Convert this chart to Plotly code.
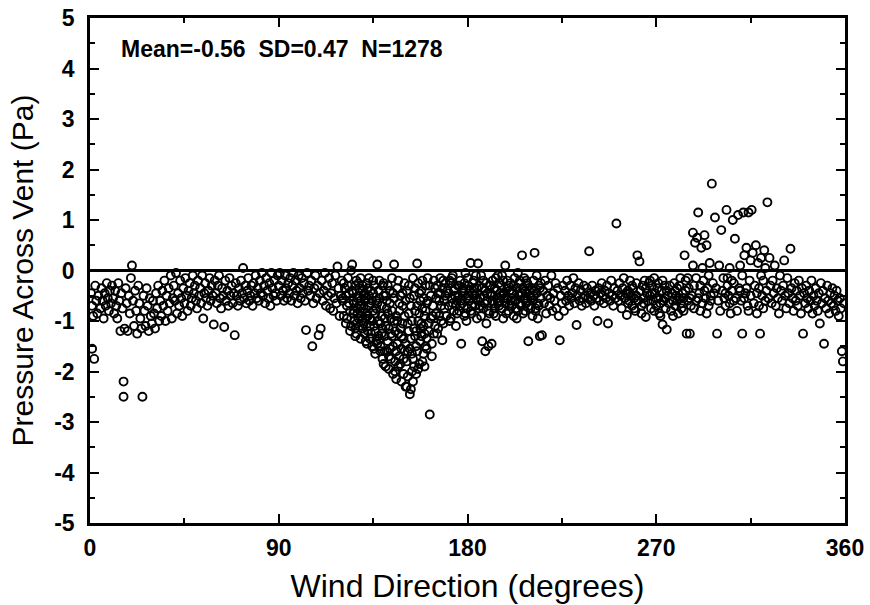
import plotly.graph_objects as go

wind_dir = [
    0.5, 1, 1.5, 2, 2.5, 3, 3.5, 4, 5, 5.5,
    6, 6.5, 7, 7.5, 8, 8.5, 9, 9.5, 10, 1,
    10.5, 11, 11.5, 12, 12.5, 13, 13.5, 14, 14.5, 15,
    15.5, 16, 16, 16.5, 17, 17.5, 18, 18.5, 19, 19.5,
    20, 20.5, 21, 21.5, 22, 22.5, 23, 23.5, 24, 24.5,
    25, 25.5, 26, 26.5, 27, 27.5, 28, 28.5, 29, 29.5,
    30, 30.5, 31, 31.5, 32, 32.5, 33, 33.5, 34, 34.5,
    35, 35.5, 36, 36.5, 37, 37.5, 38, 38.5, 39, 39.5,
    40, 40.5, 41, 41.5, 42, 42.5, 43, 43.5, 44, 44.5,
    45, 45.5, 46, 46.5, 47, 47.5, 48, 48.5, 49, 49.5,
    50, 50.5, 51, 51.5, 52, 52.5, 53, 53.5, 54, 54.5,
    55, 55.5, 56, 56.5, 57, 57.5, 58, 58.5, 59, 59.5,
    60, 60.5, 61, 61.5, 62, 62.5, 63, 63.5, 64, 64.5,
    65, 65.5, 66, 66.5, 67, 67.5, 68, 68.5, 69, 69.5,
    70, 70.5, 71, 71.5, 72, 72.5, 73, 73.5, 74, 74.5,
    75, 75.5, 76, 76.5, 77, 77.5, 78, 78.5, 79, 79.5,
    80, 80.5, 81, 81.5, 82, 82.5, 83, 83.5, 84, 84.5,
    85, 85.5, 86, 86.5, 87, 87.5, 88, 88.5, 89, 89.5,
    90, 90.5, 91, 91.5, 92, 92.5, 93, 93.5, 94, 94.5,
    95, 95.5, 96, 96.5, 97, 97.5, 98, 98.5, 99, 99.5,
    100, 100.5, 101, 101.5, 102, 102.5, 103, 103.5, 104, 104.5,
    105, 105.5, 106, 106.5, 107, 107.5, 108, 108.5, 109, 109.5,
    110, 110.5, 111, 111.5, 112, 112.5, 113, 113.5, 114, 114.5,
    115, 115.5, 116, 116.5, 117, 117.5, 118, 118.5, 119, 119.5,
    120, 120.5, 121, 121.5, 122, 122.5, 123, 123.5, 124, 124.5,
    120.5, 121, 122, 122.5, 123, 123.5, 124, 124.5, 125, 125.5,
    125, 125.5, 126, 126.5, 127, 127.5, 128, 128.5, 129, 129.5,
    125.5, 126, 126.5, 127, 127.5, 128, 128.5, 129, 129.5, 130,
    126, 127, 128, 129, 130, 126.5, 127.5, 128.5, 129.5, 130.5,
    130, 130.5, 131, 131.5, 132, 132.5, 133, 133.5, 134, 134.5,
    130.5, 131, 131.5, 132, 132.5, 133, 133.5, 134, 134.5, 135,
    131, 132, 133, 134, 135, 131.5, 132.5, 133.5, 134.5, 135.5,
    135, 135.5, 136, 136.5, 137, 137.5, 138, 138.5, 139, 139.5,
    135.5, 136, 136.5, 137, 137.5, 138, 138.5, 139, 139.5, 140,
    136, 137, 138, 139, 140, 136.5, 137.5, 138.5, 139.5, 140.5,
    140, 140.5, 141, 141.5, 142, 142.5, 143, 143.5, 144, 144.5,
    140.5, 141, 141.5, 142, 142.5, 143, 143.5, 144, 144.5, 145,
    141, 142, 143, 144, 145, 141.5, 142.5, 143.5, 144.5, 145.5,
    145, 145.5, 146, 146.5, 147, 147.5, 148, 148.5, 149, 149.5,
    145.5, 146, 146.5, 147, 147.5, 148, 148.5, 149, 149.5, 150,
    146, 147, 148, 149, 150, 146.5, 147.5, 148.5, 149.5, 150.5,
    150, 150.5, 151, 151.5, 152, 152.5, 153, 153.5, 154, 154.5,
    150.5, 151, 151.5, 152, 152.5, 153, 153.5, 154, 154.5, 155,
    151, 152, 153, 154, 155, 151.5, 152.5, 153.5, 154.5, 155.5,
    155, 155.5, 156, 156.5, 157, 157.5, 158, 158.5, 159, 159.5,
    155.5, 156, 156.5, 157, 157.5, 158, 158.5, 159, 159.5, 160,
    156, 157, 158, 159, 160, 156.5, 157.5, 158.5, 159.5, 160.5,
    160, 160.5, 161, 161.5, 162, 162.5, 163, 163.5, 164, 164.5,
    160.5, 161, 161.5, 162, 162.5, 163, 163.5, 164, 164.5, 165,
    165, 165.5, 166, 166.5, 167, 167.5, 168, 168.5, 169, 169.5,
    165.5, 166, 166.5, 167, 167.5, 168, 168.5, 169, 169.5, 170,
    170.5, 171, 171.5, 172, 172.5, 173, 173.5, 174, 174.5, 175,
    171, 172, 173, 174, 175, 171.5, 172.5, 173.5, 174.5, 175.5,
    175.5, 176, 176.5, 177, 177.5, 178, 178.5, 179, 179.5, 180,
    176, 177, 178, 179, 180, 176.5, 177.5, 178.5, 179.5, 180.5,
    180.5, 181, 181.5, 182, 182.5, 183, 183.5, 184, 184.5, 185,
    181, 182, 183, 184, 185, 181.5, 182.5, 183.5, 184.5, 185.5,
    185.5, 186, 186.5, 187, 187.5, 188, 188.5, 189, 189.5, 190,
    186, 187, 188, 189, 190, 186.5, 187.5, 188.5, 189.5, 190.5,
    190.5, 191, 191.5, 192, 192.5, 193, 193.5, 194, 194.5, 195,
    191, 192, 193, 194, 195, 191.5, 192.5, 193.5, 194.5, 195.5,
    195.5, 196, 196.5, 197, 197.5, 198, 198.5, 199, 199.5, 200,
    196, 197, 198, 199, 200, 196.5, 197.5, 198.5, 199.5, 200.5,
    200.5, 201, 201.5, 202, 202.5, 203, 203.5, 204, 204.5, 205,
    201, 202, 203, 204, 205, 201.5, 202.5, 203.5, 204.5, 205.5,
    205.5, 206, 206.5, 207, 207.5, 208, 208.5, 209, 209.5, 210,
    206, 207, 208, 209, 210, 206.5, 207.5, 208.5, 209.5, 210.5,
    210.5, 211, 211.5, 212, 212.5, 213, 213.5, 214, 214.5, 215,
    211, 212, 213, 214, 215, 211.5, 212.5, 213.5, 214.5, 215.5,
    216, 216.5, 217, 217.5, 218, 218.5, 219, 219.5, 220, 220.5,
    221, 221.5, 222, 222.5, 223, 223.5, 224, 224.5, 225, 225.5,
    226, 226.5, 227, 227.5, 228, 228.5, 229, 229.5, 230, 230.5,
    231, 231.5, 232, 232.5, 233, 233.5, 234, 234.5, 235, 235.5,
    236, 236.5, 237, 237.5, 238, 238.5, 239, 239.5, 240, 240.5,
    241, 241.5, 242, 242.5, 243, 243.5, 244, 244.5, 245, 245.5,
    246, 246.5, 247, 247.5, 248, 248.5, 249, 249.5, 250, 250.5,
    251, 251.5, 252, 252.5, 253, 253.5, 254, 254.5, 255, 255.5,
    256, 256.5, 257, 257.5, 258, 258.5, 259, 259.5, 260, 260.5,
    256.5, 257.5, 258.5, 259.5, 260.5, 261, 261.5, 262, 262.5, 263,
    263.5, 264, 264.5, 265, 265.5, 263, 264, 265, 266, 266.5,
    267, 267.5, 268, 268.5, 269, 269.5, 270, 270.5, 271, 271.5,
    267, 268, 269, 270, 271, 272, 272.5, 273, 273.5, 274,
    274.5, 275, 275.5, 272, 273, 274, 275, 276, 276.5, 277,
    277.5, 278, 278.5, 279, 279.5, 280, 280.5, 281, 281.5, 282,
    278, 279, 280, 281, 282, 282.5, 283, 283.5, 284, 284.5,
    285, 285.5, 286, 286.5, 287, 283, 284, 285, 286, 287.5,
    287.5, 288, 288.5, 289, 289.5, 290, 290.5, 291, 291.5, 292,
    292.5, 293, 293.5, 294, 294.5, 295, 295.5, 296, 296.5, 297,
    288, 289, 290, 291, 292, 293, 294, 295, 296, 297.5,
    298, 298.5, 299, 299.5, 300, 300.5, 301, 301.5, 302, 302.5,
    303, 303.5, 304, 304.5, 305, 305.5, 306, 306.5, 307, 307.5,
    303, 304, 305, 306, 307, 308, 308.5, 309, 309.5, 310,
    310.5, 311, 311.5, 312, 312.5, 313, 313.5, 314, 314.5, 315,
    310, 311, 312, 313, 314, 315, 315.5, 316, 316.5, 317,
    317.5, 318, 318.5, 319, 319.5, 320, 320.5, 321, 321.5, 322,
    318, 319, 320, 321, 322, 322.5, 323, 323.5, 324, 324.5,
    325, 325.5, 326, 326.5, 327, 327.5, 328, 328.5, 329, 329.5,
    330, 330.5, 331, 331.5, 332, 332.5, 333, 333.5, 334, 334.5,
    335, 335.5, 336, 336.5, 337, 337.5, 338, 338.5, 339, 339.5,
    340, 340.5, 341, 341.5, 342, 342.5, 343, 343.5, 344, 344.5,
    345, 345.5, 346, 346.5, 347, 347.5, 348, 348.5, 349, 349.5,
    350, 350.5, 351, 351.5, 352, 352.5, 353, 353.5, 354, 354.5,
    355, 355.5, 356, 356.5, 357, 357.5, 358, 358.5, 359, 359.5,
]

# Pressure across vent (Pa), same order as wind_dir
pressure = [
    -0.45, -0.7, -0.9, -1.75, -0.3, -0.6, -0.85, -0.5, -0.75, -0.35,
    -0.6, -0.95, -0.45, -0.7, -0.25, -0.55, -0.8, -0.4, -0.65, -1.55,
    -0.3, -0.55, -0.85, -0.4, -0.7, -0.95, -0.25, -0.6, -1.2, -0.45,
    -0.75, -2.2, -2.5, -1.15, -0.35, -0.65, -1.2, -0.5, -0.85, -0.15,
    0.1, -0.6, -1.1, -0.4, -0.8, -1.25, -0.3, -0.65, -0.95, -1.15,
    -2.5, -0.5, -0.8, -1.1, -0.35, -0.7, -1.2, -0.55, -0.9, -1.05,
    -0.6, -0.85, -1.15, -0.45, -0.75, -0.3, -1.0, -0.6, -0.9, -0.4,
    -0.7, -0.2, -1.0, -0.5, -0.8, -0.35, -0.65, -0.1, -0.95, -0.55,
    -0.3, -0.6, -0.05, -0.85, -0.45, -0.7, -0.2, -0.55, -0.9, -0.35,
    -0.65, -0.15, -0.5, -0.8, -0.4, -0.25, -0.7, -0.55, -0.1, -0.45,
    -0.3, -0.6, -0.75, -0.2, -0.5, -0.35, -0.65, -0.1, -0.95, -0.45,
    -0.25, -0.55, -0.7, -0.4, -0.15, -0.6, -0.3, -0.5, -1.07, -0.2,
    -0.45, -0.65, -0.3, -0.1, -0.55, -0.75, -0.35, -0.5, -1.12, -0.2,
    -0.6, -0.4, -0.7, -0.15, -0.5, -0.3, -0.65, -0.45, -1.28, -0.25,
    -0.5, -0.7, -0.35, -0.6, -0.2, -0.45, 0.05, -0.55, -0.3, -0.65,
    -0.4, -0.15, -0.6, -0.5, -0.3, -0.7, -0.25, -0.45, -0.1, -0.55,
    -0.35, -0.6, -0.2, -0.45, -0.05, -0.5, -0.3, -0.65, -0.15, -0.4,
    -0.55, -0.25, -0.7, -0.05, -0.35, -0.5, -0.2, -0.45, -0.6, -0.1,
    -0.3, -0.05, -0.5, -0.2, -0.4, -0.6, -0.1, -0.35, -0.55, -0.25,
    -0.45, -0.15, -0.6, -0.3, -0.05, -0.5, -0.2, -0.4, -0.65, -0.1,
    -0.35, -0.55, -0.15, -0.45, -0.25, -0.6, -1.18, -0.05, -0.4, -0.3,
    -0.5, -0.2, -1.5, -0.65, -0.35, -0.1, -0.55, -0.3, -1.28, -0.45,
    -1.15, -0.2, -0.6, -0.4, -0.05, -0.7, -0.3, -0.5, -0.15, -0.75,
    -0.45, -0.25, -0.8, -0.55, -0.1, -0.65, 0.08, -0.35, -0.9, -0.5,
    -0.2, -0.55, -0.9, -0.35, -1.05, -0.7, -0.15, -0.45, -0.8, -1.1,
    -0.6, -0.25, -0.5, -0.95, -0.3, -0.65, -1.2, 0.0, -0.4, -0.85,
    0.12, -0.6, -1.0, -0.3, -1.25, -0.75, -0.5, -1.1, -0.15, -0.9,
    -0.45, -0.8, -1.3, -0.2, -0.55, -0.95, -0.35, -1.35, -0.7, -1.15,
    -0.65, -1.05, -0.25, -0.6, -0.4, -1.15, -0.85, -0.7, -1.0, -0.5,
    -0.3, -0.75, -1.25, -0.55, -1.45, -0.9, -0.15, -1.1, -0.65, -1.5,
    -1.05, -0.45, -0.95, -0.25, -1.2, -0.7, -1.35, -0.4, -1.0, -0.8,
    -0.6, -0.85, -0.5, -1.25, -0.2, -1.4, -0.35, -0.95, -0.6, -1.55,
    -0.45, -1.1, -1.65, -0.75, 0.12, -1.3, -0.55, -1.5, -0.9, -1.75,
    -0.3, -1.2, -0.6, -1.45, -1.0, -0.2, -1.6, -0.7, -1.15, -0.5,
    -0.85, -0.65, -1.35, -1.25, -1.85, -1.4, -0.4, -1.05, -0.3, -1.6,
    -0.25, -0.95, -1.9, -0.6, -1.4, -1.15, -0.4, -1.75, -0.8, -2.05,
    -1.3, -0.5, -1.6, -0.85, -1.95, -0.65, -1.25, -0.15, -1.5, -1.0,
    -1.1, -0.3, -1.55, -1.3, 0.12, -0.75, -1.7, -0.95, -0.45, -1.8,
    -0.55, -2.0, -0.9, -1.45, -0.2, -1.7, -1.15, -2.2, -0.7, -1.35,
    -1.2, -1.6, -0.35, -1.9, -0.8, -0.5, -1.55, -1.05, -2.05, -0.25,
    -2.15, -1.25, -1.85, -0.45, -1.6, -1.0, -0.65, -1.3, -1.75, -2.3,
    -0.9, -1.45, -0.4, -2.1, -1.2, -2.45, -0.7, -1.65, -0.15, -1.9,
    -0.6, -1.8, -1.05, -0.3, -1.55, -2.35, -1.0, -2.2, -0.5, -1.3,
    -2.3, -0.85, -1.35, -1.75, -0.8, -1.6, -0.55, -2.0, -1.15, -2.05,
    -0.35, -1.5, 0.14, -1.0, -1.85, -0.6, -1.3, -0.2, -1.65, -0.9,
    -1.2, -0.7, -1.95, -0.45, -1.4, -1.05, -1.8, -0.55, -1.25, -0.3,
    -1.6, -0.85, -0.4, -1.1, -1.5, -0.25, -1.15, -0.75, -1.9, -0.65,
    -0.8, -1.35, -0.15, -1.05, -2.85, -0.5, -1.7, -0.9, -1.25, -0.35,
    -1.55, -0.6, -1.2, -0.3, -0.95, -1.45, -0.7, -0.2, -1.1, -0.55,
    -0.85, -0.3, -1.15, -0.6, -0.45, -1.0, -1.38, -0.2, -0.75, -0.5,
    -1.25, -0.45, -0.9, -0.15, -0.7, -0.35, -1.05, -0.6, -0.25, -0.9,
    -0.4, -0.7, -0.2, -0.95, -0.55, -0.1, -0.8, -0.35, -1.1, -0.6,
    -0.45, -0.25, -0.65, -0.5, -0.85, -1.0, -0.15, -0.4, -0.7, -0.3,
    -0.5, -0.8, -0.2, -1.45, -0.65, -0.35, -0.9, -0.05, -0.55, -0.75,
    -0.3, -0.6, -0.45, -0.85, -0.15, -0.7, -0.4, -0.25, -1.0, -0.5,
    -0.3, -0.6, 0.15, -0.85, -0.45, -0.2, -0.7, -0.55, -0.95, 0.14,
    -0.4, -0.7, -0.35, -0.1, -0.6, -0.8, -0.25, -0.5, -0.35, -0.75,
    -0.3, -0.55, -0.9, -1.4, -0.2, -0.65, -1.6, -1.05, -0.45, -0.8,
    -0.7, -0.35, -0.5, -0.25, -1.5, -0.1, -0.75, -0.4, -0.6, -0.3,
    -0.85, -0.45, -1.45, -0.2, -0.65, -0.35, -0.9, -0.55, -0.1, -0.7,
    -0.3, -0.6, -0.75, -0.4, -0.25, -0.5, -0.85, -0.15, -0.65, -0.45,
    -0.6, -0.3, -0.75, -0.95, -0.45, 0.1, -0.55, -0.2, -0.8, -0.4,
    -0.5, -0.2, -0.65, -0.35, -0.7, -0.1, -0.55, -0.85, -0.3, -0.6,
    -0.25, -0.7, -0.45, -0.9, -0.15, -0.6, -0.35, -0.8, -0.5, -0.2,
    -0.55, -0.3, -0.75, -0.05, -0.65, -0.4, -0.6, -0.95, -0.25, -0.45,
    -0.7, 0.3, -0.35, -0.55, -0.8, -0.2, -0.6, -1.4, -0.4, -0.75,
    -0.45, -0.15, -0.65, -0.3, -0.5, -0.85, -0.4, -0.25, -0.7, -0.55,
    -0.35, -0.6, -0.2, 0.35, -0.8, -0.45, -0.65, -0.3, -1.3, -0.55,
    -0.9, -0.4, -0.1, -0.7, -0.25, -0.5, -0.75, -0.95, -0.35, -1.28,
    -0.4, -0.65, -0.2, -0.85, -0.5, -0.3, -0.7, -0.55, -0.1, -0.8,
    -0.45, -0.6, -0.25, -0.75, -0.35, -0.9, -1.38, -0.5, -0.65, -0.3,
    -0.8, -0.4, -0.6, -0.2, -0.5, -0.7, -0.3, -0.55, -0.45, -0.15,
    -0.65, -0.35, -1.08, -0.5, -0.25, -0.6, -0.4, -0.7, -0.55, -0.3,
    -0.5, -0.65, -0.35, -0.55, 0.38, -0.45, -0.6, -0.3, -0.5, -0.7,
    -0.4, -0.55, -1.0, -0.35, -0.6, -0.45, -0.25, -0.5, -0.65, -0.4,
    -0.55, -0.3, -1.05, -0.45, -0.6, -0.2, -0.5, -0.7, -0.35, -0.55,
    0.93, -0.4, -0.6, -0.25, -0.5, -0.75, -0.35, -0.15, -0.55, -0.45,
    -0.88, -0.4, -0.6, -0.2, -0.5, -0.7, -0.35, -0.55, -0.8, -0.25,
    -0.65, -0.45, -0.3, -0.75, -0.5, 0.3, -0.6, 0.18, -0.4, -0.7,
    -0.3, -0.55, -0.2, -0.92, -0.45, -0.85, -0.65, -0.35, -0.6, -0.25,
    -0.5, -0.75, -0.3, -0.6, -0.15, -0.45, -0.7, -0.35, -0.55, -0.85,
    -0.2, -0.45, -0.8, -0.55, -0.25, -0.65, -0.4, -1.07, -0.6, -0.3,
    -0.75, -1.17, -0.5, -0.9, -0.2, -0.55, -0.4, -0.65, -0.3, -0.8,
    -0.45, -0.6, -0.25, -0.7, -0.5, -0.35, -0.85, -0.55, -0.15, -0.65,
    -0.9, -0.4, -0.6, -0.3, -0.75, -0.45, -0.55, 0.3, -0.2, -1.25,
    -0.6, -0.35, -1.25, -0.7, -0.5, -0.8, -0.4, -0.15, -0.55, 0.75,
    0.1, -0.3, 0.55, -0.6, 0.65, 1.15, -0.45, -0.8, 0.45, 0.05,
    -0.2, 0.7, -0.55, 0.5, -0.35, -0.7, 0.15, -0.5, 1.72, -0.25,
    -0.75, -0.15, -0.55, -0.3, -0.65, -0.4, -0.85, -0.1, -0.6, -0.45,
    1.05, -0.35, -1.25, -0.6, 0.1, -0.8, 0.8, -0.4, -0.15, -0.55,
    -0.7, 1.2, -0.3, -0.5, 0.05, -0.85, -0.2, 1.0, -0.6, 0.63,
    -0.45, -0.15, -0.65, -0.4, -0.25, -0.55, -0.8, 1.1, -0.35, 0.1,
    -0.6, -1.25, 1.15, 0.3, -0.45, 0.45, -0.7, 1.15, -0.2, 0.2,
    -0.4, -0.1, -0.55, -0.35, -0.8, -0.5, 1.2, 0.35, -0.65, -0.3,
    0.5, -0.45, 0.15, -0.7, -1.25, 0.25, -0.5, -0.2, 0.4, -0.6,
    -0.85, -0.35, -0.1, -0.75, 0.05, -0.4, 1.35, -0.55, 0.25, -0.3,
    -0.65, -0.2, -0.45, 0.1, -0.7, -0.35, -0.55, -0.85, -0.1, -0.4,
    -0.6, -0.3, 0.2, -0.5, -0.75, -0.15, -0.45, -0.65, 0.43, -0.35,
    -0.55, -0.8, -0.25, -0.6, -0.4, -0.7, -0.2, -0.5, -0.85, -0.35,
    -1.25, -0.45, -0.65, -0.3, -0.55, -0.75, -0.4, -0.6, -0.2, -0.85,
    -0.5, -0.7, -0.35, -0.6, -0.8, -0.45, -1.05, -0.25, -0.65, -0.4,
    -1.45, -0.55, -0.75, -0.3, -0.6, -0.85, -0.45, -0.65, -0.35, -0.7,
    -0.5, -0.8, -0.4, -0.6, -0.9, -0.55, -0.75, -1.6, -1.8, -0.65,
]

x_ticks = [0, 90, 180, 270, 360]
y_ticks = [-5, -4, -3, -2, -1, 0, 1, 2, 3, 4, 5]
stats_text = "Mean=-0.56  SD=0.47  N=1278"

assert len(wind_dir) == len(pressure), (len(wind_dir), len(pressure))

FONT = "Arial, Liberation Sans, sans-serif"

fig = go.Figure()
fig.add_trace(go.Scatter(
    x=wind_dir, y=pressure, mode="markers",
    marker=dict(symbol="circle-open", size=8, color="black",
                line=dict(width=1.9, color="black")),
    showlegend=False, hoverinfo="skip",
))

axis_common = dict(
    showline=True, linecolor="black", linewidth=2.5, mirror="ticks",
    ticks="inside", ticklen=9, tickwidth=2, tickcolor="black",
    showgrid=False, automargin=False,
    tickfont=dict(family=FONT, size=23, color="black", weight="bold"),
)

fig.update_xaxes(
    range=[0, 360], tickvals=x_ticks, ticktext=[str(v) for v in x_ticks],
    zeroline=False,
    minor=dict(dtick=45, tick0=0, ticks="inside", ticklen=5, tickwidth=1.5,
               tickcolor="black", showgrid=False),
    title=dict(text="Wind Direction (degrees)",
               font=dict(family=FONT, size=32, color="black"), standoff=15),
    ticklabelstandoff=3,
    **axis_common,
)
fig.update_yaxes(
    range=[-5, 5], tickvals=y_ticks, ticktext=[str(v) for v in y_ticks],
    zeroline=True, zerolinecolor="black", zerolinewidth=2.5,
    minor=dict(dtick=0.5, tick0=0, ticks="inside", ticklen=5, tickwidth=1.5,
               tickcolor="black", showgrid=False),
    title=dict(text="Pressure Across Vent (Pa)",
               font=dict(family=FONT, size=30, color="black"), standoff=12),
    ticklabelstandoff=8,
    **axis_common,
)

fig.add_annotation(
    x=14, y=4.38, xref="x", yref="y", xanchor="left", yanchor="middle",
    text=stats_text, showarrow=False,
    font=dict(family=FONT, size=23, color="black", weight="bold"),
)

fig.update_layout(
    width=870, height=605,
    margin=dict(l=90, r=25, t=18, b=82, pad=0),
    plot_bgcolor="white", paper_bgcolor="white",
)

fig.write_html("out.html")
